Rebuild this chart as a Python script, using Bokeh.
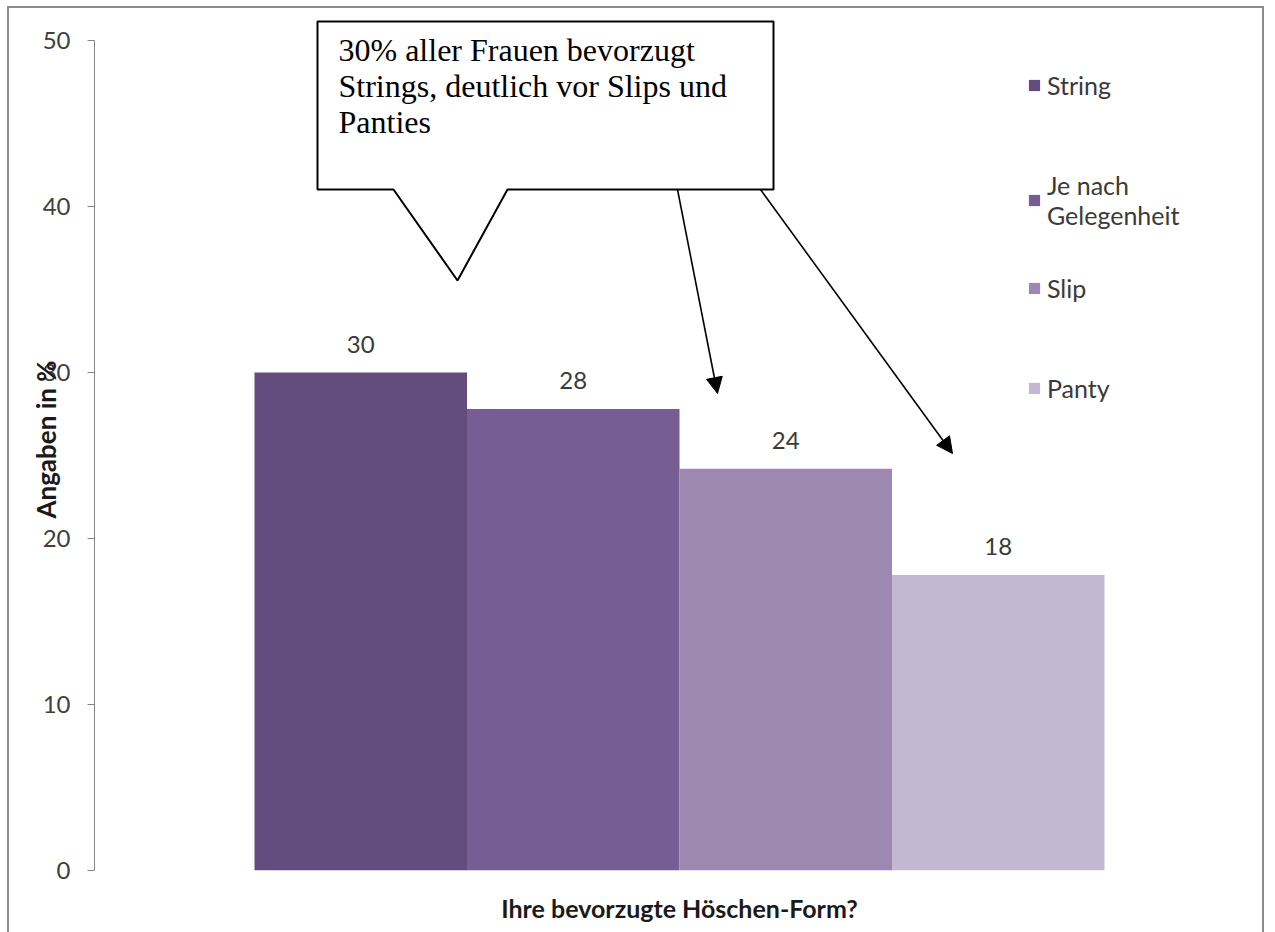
from bokeh.plotting import figure
from bokeh.models import (Range1d, FixedTicker, LinearAxis, ColumnDataSource, LabelSet,
                          Legend, LegendItem, Arrow, NormalHead, PolyAnnotation, Label)
from bokeh.core.properties import value
from bokeh.embed import file_html
from bokeh.resources import INLINE

# ---------------- data ----------------
categories = ["String", "Je nach Gelegenheit", "Slip", "Panty"]
legend_labels = ["String", "Je nach\nGelegenheit", "Slip", "Panty"]
values = [30.0, 27.8, 24.2, 17.8]
value_labels = ["30", "28", "24", "18"]
bar_colors = ["#634d7e", "#765d94", "#9d88b2", "#c3b8d2"]
y_ticks = [0, 10, 20, 30, 40, 50]
y_title = "Angaben in %"
x_title = "Ihre bevorzugte Höschen-Form?"
callout_text = "30% aller Frauen bevorzugt\nStrings, deutlich vor Slips und\nPanties"

# ---------------- layout ----------------
OFF_X, OFF_Y = 9, 8          # canvas position on the page (inside a 2px border)
W, H = 1257, 930
ML, MR, MT, MB = 85, 2, 0, 68
X0, X1 = -1.253, 4.253
Y0, Y1 = 0, 51.93
FW = W - ML - MR
FH = H - MT - MB


def dx(px):
    return X0 + (px - OFF_X - ML) / FW * (X1 - X0)


def dy(py):
    return Y1 - (py - OFF_Y - MT) / FH * (Y1 - Y0)


p = figure(width=W, height=H, x_range=Range1d(X0, X1), y_range=Range1d(Y0, Y1),
           output_backend="svg", toolbar_location=None,
           x_axis_type=None, y_axis_type=None,
           min_border_left=ML, min_border_right=MR, min_border_top=MT, min_border_bottom=MB)
p.outline_line_color = None
p.background_fill_color = "white"
p.border_fill_color = "white"
p.styles = {"margin-left": f"{OFF_X - 2}px", "margin-top": f"{OFF_Y - 2}px",
            "border": "2px solid #8c8c8c"}

FONT = "Lato"

yaxis = LinearAxis(ticker=FixedTicker(ticks=y_ticks), bounds=(0, 50), axis_label=y_title)
yaxis.axis_line_color = "#868686"
yaxis.major_tick_line_color = "#868686"
yaxis.major_tick_out = 7
yaxis.major_tick_in = 0
yaxis.minor_tick_line_color = None
yaxis.major_label_standoff = 17
yaxis.major_label_text_font = FONT
yaxis.major_label_text_font_size = "24px"
yaxis.major_label_text_color = "#404040"
yaxis.axis_label_text_font = FONT
yaxis.axis_label_text_font_size = "26px"
yaxis.axis_label_text_font_style = "bold"
yaxis.axis_label_text_color = "#1a1a1a"
yaxis.axis_label_standoff = -22
p.add_layout(yaxis, "left")

xaxis = LinearAxis(ticker=FixedTicker(ticks=[]), axis_label=x_title)
xaxis.axis_line_color = None
xaxis.major_tick_line_color = None
xaxis.minor_tick_line_color = None
xaxis.major_tick_out = 0
xaxis.major_label_standoff = 0
xaxis.axis_label_standoff = 22
xaxis.axis_label_text_font = FONT
xaxis.axis_label_text_font_size = "25px"
xaxis.axis_label_text_font_style = "bold"
xaxis.axis_label_text_color = "#1a1a1a"
p.add_layout(xaxis, "below")

idx = list(range(len(categories)))
src = ColumnDataSource(dict(x=idx, top=values, color=bar_colors, cat=categories, lab=value_labels))
r = p.vbar(x="x", top="top", width=1.0, fill_color="color", line_color=None, source=src)

labels = LabelSet(x="x", y="top", text="lab", source=src, y_offset=20,
                  text_align="center", text_baseline="alphabetic",
                  text_font=value(FONT), text_font_size=value("24px"),
                  text_color="#3a3a3a")
p.add_layout(labels)

# one legend block per entry so each sits where the original places it
legend_bottoms = [770, 640, 567, 467]
for i in idx:
    lg = Legend(items=[LegendItem(label=legend_labels[i], renderers=[r], index=i)],
                location=(933, legend_bottoms[i]))
    lg.background_fill_alpha = 0
    lg.border_line_color = None
    lg.padding = 0
    lg.margin = 0
    lg.glyph_width = 14
    lg.glyph_height = 14
    lg.label_standoff = 6
    lg.label_text_font = FONT
    lg.label_text_font_size = "25px"
    lg.label_text_color = "#3a3a3a"
    lg.label_text_line_height = 1.15
    p.add_layout(lg, "center")

# callout
cx = [317, 773, 773, 507, 457, 393, 317]
cy = [21, 21, 189, 189, 280, 189, 189]
poly = PolyAnnotation(xs=[dx(v) for v in cx], ys=[dy(v) for v in cy],
                      fill_color="white", fill_alpha=1.0,
                      line_color="black", line_alpha=1.0, line_width=2)
p.add_layout(poly)

txt = Label(x=dx(338), y=dy(31), text=callout_text, text_align="left", text_baseline="top",
            text_font="Liberation Serif", text_font_size="32px", text_color="black",
            text_line_height=1.0)
p.add_layout(txt)

for (sx, sy, ex, ey) in [(677, 189, 717, 393), (760, 189, 952, 453)]:
    p.add_layout(Arrow(x_start=dx(sx), y_start=dy(sy), x_end=dx(ex), y_end=dy(ey),
                       line_color="black", line_width=1.6,
                       end=NormalHead(size=16, fill_color="black", line_color="black", line_width=1)))

open("out.html", "w").write(file_html(p, INLINE))
